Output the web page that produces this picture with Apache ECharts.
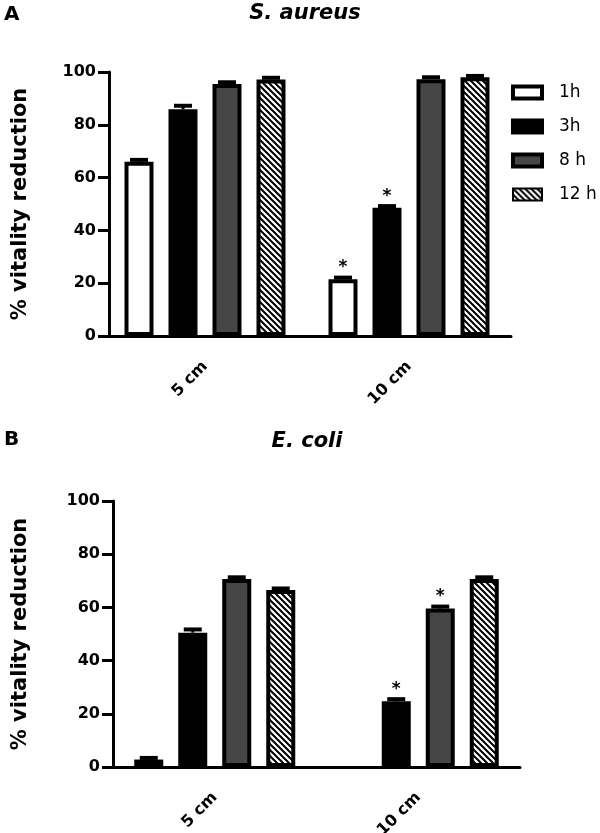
<!DOCTYPE html>
<html><head><meta charset="utf-8">
<script src="https://cdn.jsdelivr.net/npm/echarts@6/dist/echarts.min.js"></script>
<style>html,body{margin:0;padding:0;background:#fff}#c{width:600px;height:833px}</style>
</head><body><div id="c"></div>
<script>
// ---- data ----
const categories = ['5 cm', '10 cm'];
const seriesNames = ['1h', '3h', '8 h', '12 h'];
const yTicks = [0, 20, 40, 60, 80, 100];
// Panel A: S. aureus
const aureus1h = [66.0, 21.5];
const aureus3h = [85.9, 48.6];
const aureus8h = [95.5, 97.3];
const aureus12h = [97.2, 98.0];
const aureusErr1h = [0.9, 0.8];
const aureusErr3h = [1.5, 0.8];
const aureusErr8h = [0.8, 0.9];
const aureusErr12h = [0.8, 0.7];
const aureusStar1h = [false, true];
const aureusStar3h = [false, true];
const aureusStar8h = [false, false];
const aureusStar12h = [false, false];
// Panel B: E. coli
const coli1h = [2.8, null];
const coli3h = [50.5, 24.7];
const coli8h = [70.7, 59.6];
const coli12h = [66.5, 70.7];
const coliErr1h = [0.8, null];
const coliErr3h = [1.4, 1.0];
const coliErr8h = [0.8, 0.9];
const coliErr12h = [0.8, 0.8];
const coliStar1h = [false, false];
const coliStar3h = [false, true];
const coliStar8h = [false, true];
const coliStar12h = [false, false];

// ---- styles ----
const FONT = 'DejaVu Sans';
const BAR_W = 29, BAR_GAP = 15 / 29, STEP = BAR_W * (1 + BAR_GAP);

const pc = document.createElement('canvas');
pc.width = 6; pc.height = 6;
const g = pc.getContext('2d');
g.fillStyle = '#fff'; g.fillRect(0, 0, 6, 6);
g.strokeStyle = '#000'; g.lineWidth = 2;
g.beginPath();
g.moveTo(-1, -1); g.lineTo(7, 7);
g.moveTo(-1, 5); g.lineTo(1, 7);
g.moveTo(5, -1); g.lineTo(7, 1);
g.stroke();

const fills = [
  { color: '#ffffff', borderColor: '#000', borderWidth: 4 },
  { color: '#000000', borderColor: '#000', borderWidth: 4 },
  { color: '#464646', borderColor: '#000', borderWidth: 4 },
  { color: { image: pc, repeat: 'repeat' }, borderColor: '#000', borderWidth: 4 }
];

function barData(vals, stars) {
  return vals.map((v, i) => {
    if (v == null) return '-';
    if (!stars[i]) return v;
    return { value: v, label: { show: true, position: 'top', distance: 3, formatter: '*',
      fontFamily: FONT, fontWeight: 'bold', fontSize: 17, color: '#000' } };
  });
}

function errData(valsList, errsList) {
  const out = [];
  valsList.forEach((vals, s) => vals.forEach((v, c) => {
    if (v != null && errsList[s][c] != null) out.push([c, s, v, errsList[s][c]]);
  }));
  return out;
}

function renderErr(params, api) {
  const c = api.value(0), s = api.value(1), v = api.value(2), e = api.value(3);
  const p0 = api.coord([c, v]);
  const p1 = api.coord([c, v + e]);
  const x = p0[0] + (s - 1.5) * STEP;
  return { type: 'group', children: [
    { type: 'line', shape: { x1: x, y1: p0[1], x2: x, y2: p1[1] }, style: { stroke: '#000', lineWidth: 3 } },
    { type: 'line', shape: { x1: x - 9, y1: p1[1] + 0.5, x2: x + 9, y2: p1[1] + 0.5 }, style: { stroke: '#000', lineWidth: 4 } }
  ] };
}

function xAxis(gi) {
  return {
    type: 'category', gridIndex: gi, data: categories,
    axisLine: { lineStyle: { color: '#000', width: 3 } },
    axisTick: { show: false },
    axisLabel: { rotate: 45, margin: 28, fontFamily: FONT, fontWeight: 'bold', fontSize: 16, color: '#000' }
  };
}
function yAxis(gi, off, gap) {
  return {
    type: 'value', gridIndex: gi, min: yTicks[0], max: yTicks[yTicks.length - 1], interval: 20,
    offset: off,
    axisLine: { show: true, lineStyle: { color: '#000', width: 3 } },
    axisTick: { show: true, length: 11, lineStyle: { color: '#000', width: 3 } },
    splitLine: { show: false },
    axisLabel: { margin: 13, fontFamily: FONT, fontWeight: 'bold', fontSize: 16, color: '#000' },
    name: '% vitality reduction', nameLocation: 'middle', nameGap: gap,
    nameTextStyle: { fontFamily: FONT, fontWeight: 'bold', fontSize: 21, color: '#000' }
  };
}

function panelSeries(gi, valsList, errsList, starsList) {
  const list = valsList.map((vals, s) => ({
    type: 'bar', name: seriesNames[s], xAxisIndex: gi, yAxisIndex: gi,
    barWidth: BAR_W, barGap: (BAR_GAP * 100) + '%',
    itemStyle: fills[s], emphasis: { disabled: true },
    data: barData(vals, starsList[s])
  }));
  list.push({
    type: 'custom', xAxisIndex: gi, yAxisIndex: gi, z: 5, silent: true,
    encode: { x: 0, y: 2 }, renderItem: renderErr, data: errData(valsList, errsList)
  });
  return list;
}

const chart = echarts.init(document.getElementById('c'));
chart.setOption({
  animation: false,
  backgroundColor: '#fff',
  grid: [
    { left: 103, right: 89, top: 72, height: 264, outerBoundsMode: 'none' },
    { left: 113, right: 80, top: 501, height: 266, outerBoundsMode: 'none' }
  ],
  xAxis: [xAxis(0), xAxis(1)],
  yAxis: [yAxis(0, -6, 78), yAxis(1, 0, 82)],
  legend: {
    orient: 'vertical', left: 506, top: 79, itemWidth: 29, itemHeight: 12, itemGap: 17,
    icon: 'rect', selectedMode: false,
    data: seriesNames.map((n, i) => ({ name: n, itemStyle: { borderWidth: i === 3 ? 2 : 4 } })),
    textStyle: { fontFamily: FONT, fontSize: 17, color: '#000', padding: [0, 0, 0, 12] }
  },
  graphic: [
    { type: 'text', left: 4, top: 5, style: { text: 'A', font: 'bold 20px "DejaVu Sans"', fill: '#000' } },
    { type: 'text', x: 305, y: 14, style: { text: 'S. aureus', font: 'italic bold 21px "DejaVu Sans"', fill: '#000', textAlign: 'center', textVerticalAlign: 'middle' } },
    { type: 'text', left: 4, top: 430, style: { text: 'B', font: 'bold 20px "DejaVu Sans"', fill: '#000' } },
    { type: 'text', x: 307, y: 442, style: { text: 'E. coli', font: 'italic bold 21px "DejaVu Sans"', fill: '#000', textAlign: 'center', textVerticalAlign: 'middle' } }
  ],
  series: [].concat(
    panelSeries(0, [aureus1h, aureus3h, aureus8h, aureus12h],
      [aureusErr1h, aureusErr3h, aureusErr8h, aureusErr12h],
      [aureusStar1h, aureusStar3h, aureusStar8h, aureusStar12h]),
    panelSeries(1, [coli1h, coli3h, coli8h, coli12h],
      [coliErr1h, coliErr3h, coliErr8h, coliErr12h],
      [coliStar1h, coliStar3h, coliStar8h, coliStar12h])
  )
});
</script></body></html>
